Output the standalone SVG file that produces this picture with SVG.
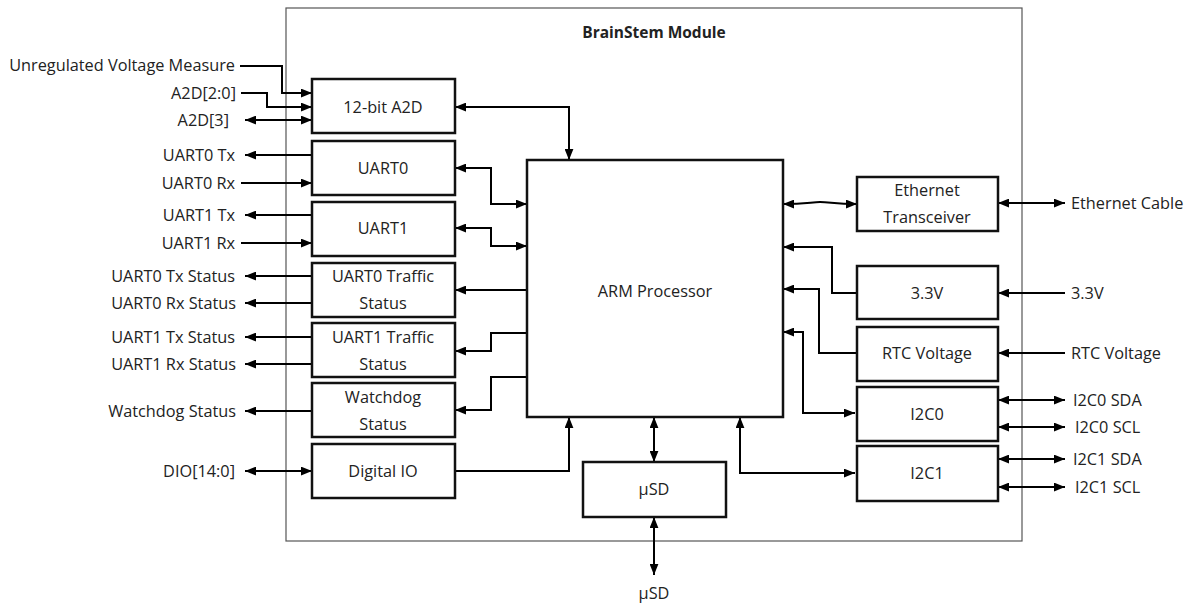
<svg xmlns="http://www.w3.org/2000/svg" width="1188" height="605" viewBox="0 0 1188 605">
<defs>
<marker id="ah" viewBox="0 0 10 8" refX="10" refY="4" markerWidth="11" markerHeight="9" orient="auto-start-reverse" markerUnits="userSpaceOnUse"><path d="M0,0 L10,4 L0,8 z" fill="#000"/></marker>
<style>
text{font-family:"Open Sans","Noto Sans",sans-serif;font-size:16.3px;fill:#222;dominant-baseline:central}
.c{text-anchor:middle}
.l{text-anchor:end}
.r{text-anchor:start}
.box{fill:#fff;stroke:#111;stroke-width:2.5}
.w{fill:none;stroke:#000;stroke-width:2}
.a{marker-end:url(#ah)}
.b{marker-start:url(#ah);marker-end:url(#ah)}
</style>
</defs>
<rect width="1188" height="605" fill="#fff"/>
<g id="module">
<rect x="286" y="8" width="736" height="533" fill="none" stroke="#555" stroke-width="1.2"/>
<text x="654" y="32" class="c" style="font-weight:bold;font-size:15.5px">BrainStem Module</text>
</g>
<g id="connectors">
<path class="w a" d="M240,66 H282 V93 H312"/>
<path class="w a" d="M241,93 H267 V107 H312"/>
<path class="w b" d="M245,120 H312"/>
<path class="w a" d="M312,155 H245"/>
<path class="w a" d="M241,183 H312"/>
<path class="w a" d="M312,215 H245"/>
<path class="w a" d="M241,243 H312"/>
<path class="w a" d="M312,276 H245"/>
<path class="w a" d="M312,303 H245"/>
<path class="w a" d="M312,337 H245"/>
<path class="w a" d="M312,364 H245"/>
<path class="w a" d="M312,411 H245"/>
<path class="w b" d="M245,471 H312"/>
<path class="w b" d="M455,107 H569 V160"/>
<path class="w b" d="M455,168 H491 V204 H527"/>
<path class="w b" d="M455,228 H491 V246 H527"/>
<path class="w a" d="M527,290 H455"/>
<path class="w a" d="M527,333 H491 V351 H455"/>
<path class="w a" d="M527,377 H491 V410 H455"/>
<path class="w a" d="M455,471 H569 V417"/>
<path class="w b" d="M654,417 V462"/>
<path class="w b" d="M654,517 V575"/>
<path class="w b" d="M740,417 V473 H855"/>
<path class="w b" d="M783,204 C805,204 812,202 820,202 C830,202 835,204 857,204"/>
<path class="w a" d="M857,293 H832 V247 H783"/>
<path class="w a" d="M857,353 H819 V289 H783"/>
<path class="w b" d="M783,332 H803 V413 H855"/>
<path class="w b" d="M998,203 H1065"/>
<path class="w a" d="M1065,293 H998"/>
<path class="w a" d="M1065,353 H998"/>
<path class="w b" d="M998,400 H1065"/>
<path class="w b" d="M998,427 H1065"/>
<path class="w b" d="M998,459 H1065"/>
<path class="w b" d="M998,487 H1065"/>
</g>
<g id="labels-left">
<text x="235" y="65" class="l">Unregulated Voltage Measure</text>
<text x="236" y="93" class="l">A2D[2:0]</text>
<text x="229" y="120" class="l">A2D[3]</text>
<text x="235" y="155" class="l">UART0 Tx</text>
<text x="235" y="183" class="l">UART0 Rx</text>
<text x="235" y="215" class="l">UART1 Tx</text>
<text x="235" y="243" class="l">UART1 Rx</text>
<text x="235" y="276" class="l">UART0 Tx Status</text>
<text x="236" y="303" class="l">UART0 Rx Status</text>
<text x="235" y="337" class="l">UART1 Tx Status</text>
<text x="236" y="364" class="l">UART1 Rx Status</text>
<text x="236" y="411" class="l">Watchdog Status</text>
<text x="235" y="471" class="l">DIO[14:0]</text>
</g>
<g id="labels-right">
<text x="1071" y="203" class="r">Ethernet Cable</text>
<text x="1071" y="293" class="r">3.3V</text>
<text x="1071" y="353" class="r">RTC Voltage</text>
<text x="1073" y="400" class="r">I2C0 SDA</text>
<text x="1075" y="427" class="r">I2C0 SCL</text>
<text x="1073" y="459" class="r">I2C1 SDA</text>
<text x="1075" y="487" class="r">I2C1 SCL</text>
<text x="654" y="593" class="c">µSD</text>
</g>
<g id="a2d"><rect class="box" x="312" y="79" width="143" height="54"/><text x="383" y="107" class="c">12-bit A2D</text></g>
<g id="uart0"><rect class="box" x="312" y="141" width="143" height="54"/><text x="383" y="168" class="c">UART0</text></g>
<g id="uart1"><rect class="box" x="312" y="202" width="143" height="54"/><text x="383" y="228" class="c">UART1</text></g>
<g id="uart0-traffic"><rect class="box" x="312" y="263" width="143" height="54"/><text x="383" y="276" class="c">UART0 Traffic</text><text x="383" y="303" class="c">Status</text></g>
<g id="uart1-traffic"><rect class="box" x="312" y="323" width="143" height="54"/><text x="383" y="337" class="c">UART1 Traffic</text><text x="383" y="364" class="c">Status</text></g>
<g id="watchdog"><rect class="box" x="312" y="383" width="143" height="54"/><text x="383" y="397" class="c">Watchdog</text><text x="383" y="424" class="c">Status</text></g>
<g id="dio"><rect class="box" x="312" y="444" width="143" height="54"/><text x="383" y="471" class="c">Digital IO</text></g>
<g id="arm"><rect class="box" x="527" y="160" width="256" height="257"/><text x="655" y="291" class="c">ARM Processor</text></g>
<g id="usd"><rect class="box" x="583" y="462" width="143" height="55"/><text x="654" y="489" class="c">µSD</text></g>
<g id="ethernet"><rect class="box" x="857" y="177" width="141" height="54"/><text x="927" y="190" class="c">Ethernet</text><text x="927" y="217" class="c">Transceiver</text></g>
<g id="v33"><rect class="box" x="857" y="266" width="141" height="53"/><text x="927" y="293" class="c">3.3V</text></g>
<g id="rtc"><rect class="box" x="857" y="327" width="141" height="54"/><text x="927" y="353" class="c">RTC Voltage</text></g>
<g id="i2c0"><rect class="box" x="857" y="387" width="141" height="54"/><text x="927" y="414" class="c">I2C0</text></g>
<g id="i2c1"><rect class="box" x="857" y="446" width="141" height="55"/><text x="927" y="473" class="c">I2C1</text></g>
</svg>
